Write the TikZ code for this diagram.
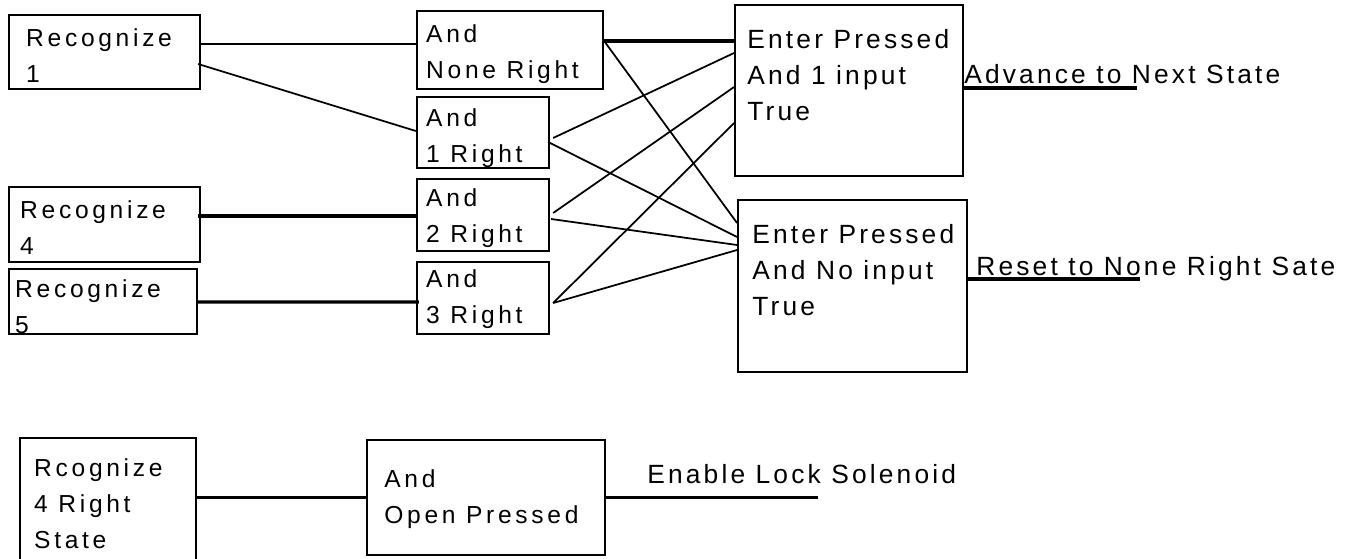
\documentclass[tikz,border=0pt]{standalone}
\usepackage{fontspec}
\setmainfont{Liberation Sans}
\newfontfamily\gatefont[LetterSpace=15]{Liberation Sans}
\newfontfamily\statefont[LetterSpace=12]{Liberation Sans}
\usetikzlibrary{calc}

\tikzset{
	blk/.style={draw, line width=1.3pt, inner sep=0pt},
	txt/.style={anchor=north west, inner sep=0pt, align=left, font=\gatefont\fontsize{14}{20.5}\selectfont},
	stxt/.style={txt, font=\statefont\fontsize{15}{20.5}\selectfont},
	wire/.style={line width=1pt},
	bus/.style={line width=1.8pt}
}

\begin{document}
\begin{tikzpicture}[x=0.02cm, y=-0.02cm]

	\useasboundingbox (0,0) rectangle (1351,558);

	% Input blocks
	\node[blk, minimum width=3.82cm, minimum height=1.48cm] (r1) at (104.5,52) {};
	\node[blk, minimum width=3.82cm, minimum height=1.50cm] (r4) at (104.5,224.5) {};
	\node[blk, minimum width=3.76cm, minimum height=1.30cm] (r5) at (103,301.5) {};

	% And gates
	\node[blk, minimum width=3.72cm, minimum height=1.56cm] (andn) at (510,50) {};
	\node[blk, minimum width=2.64cm, minimum height=1.42cm] (and1) at (483,132.5) {};
	\node[blk, minimum width=2.64cm, minimum height=1.44cm] (and2) at (483,215) {};
	\node[blk, minimum width=2.64cm, minimum height=1.44cm] (and3) at (483,298) {};

	% Enter blocks
	\node[blk, line width=1.1pt, minimum width=4.56cm, minimum height=3.42cm] (ent1) at (849,90.5) {};
	\node[blk, line width=1.1pt, minimum width=4.58cm, minimum height=3.44cm] (ent2) at (852.5,286) {};

	% Lock part
	\node[blk, minimum width=3.52cm, minimum height=3.24cm] (r4s) at (108,519) {};
	\node[blk, line width=1.1pt, minimum width=4.76cm, minimum height=2.30cm] (ando) at (486,497.5) {};

	% Texts
	\node[txt] (r1t) at ($(r1.north west)+(18,14)$) {Recognize\\1};
	\node[txt] (r4t) at ($(r4.north west)+(12,14)$) {Recognize\\4};
	\node[txt] (r5t) at ($(r5.north west)+(7,11)$) {Recognize\\5};
	\node[txt] (andnt) at ($(andn.north west)+(10,14)$) {And\\None Right};
	\node[txt] (and1t) at ($(and1.north west)+(10,12)$) {And\\1 Right};
	\node[txt] (and2t) at ($(and2.north west)+(10,10)$) {And\\2 Right};
	\node[txt] (and3t) at ($(and3.north west)+(10,8)$) {And\\3 Right};
	\node[stxt] (ent1t) at ($(ent1.north west)+(13,25)$) {Enter Pressed\\And 1 input\\True};
	\node[stxt] (ent2t) at ($(ent2.north west)+(15,25)$) {Enter Pressed\\And No input\\True};
	\node[txt] (r4st) at ($(r4s.north west)+(15,21)$) {Rcognize\\4 Right\\State};
	\node[txt] (andot) at ($(ando.north west)+(18,30)$) {And\\Open Pressed};

	% Free ends
	\coordinate (adv) at (1137,88);
	\coordinate (rst) at (1140,279);
	\coordinate (enl) at (818,497.5);

	\node[stxt, anchor=base west] (advt) at (964,83) {Advance to Next State};
	\node[stxt, anchor=base west] (rstt) at (976,275) {Reset to None Right Sate};
	\node[stxt, anchor=base west] (enlt) at (647,483) {Enable Lock Solenoid};

	% Inputs to gates
	\draw[wire, line width=0.7pt] ($(r1.east)+(0,-8)$) -- ($(andn.west)+(0,-6)$);
	\draw[wire] ($(r1.east)+(-3,12)$) -- ($(and1.west)+(0,-1.5)$);
	\draw[bus] ($(r4.east)+(-3,-8.5)$) -- ($(and2.west)+(0,1)$);
	\draw[bus] ($(r5.east)+(0,0.5)$) -- ($(and3.west)+(3,4)$);

	% Gates to enter blocks
	\draw[bus] ($(andn.east)+(0,-9)$) -- ($(ent1.west)+(0,-49.5)$);
	\draw[wire] ($(andn.east)+(0,-9)$) -- ($(ent2.west)+(0,-63)$);
	\draw[wire] ($(and1.east)+(3,5.5)$) -- ($(ent1.west)+(0,-37.5)$);
	\draw[wire] ($(and1.east)+(-2,9.5)$) -- ($(ent2.west)+(0,-49)$);
	\draw[wire] ($(and2.east)+(3,-2)$) -- ($(ent1.west)+(0,-3.5)$);
	\draw[wire] ($(and2.east)+(1,4)$) -- ($(ent2.west)+(0,-41)$);
	\draw[wire] ($(and3.east)+(3,5)$) -- ($(ent1.west)+(0,32.5)$);
	\draw[wire] ($(and3.east)+(3,5)$) -- ($(ent2.west)+(0,-36)$);

	% Outputs
	\draw[bus] (ent1.east |- adv) -- (adv);
	\draw[bus] (ent2.east |- rst) -- (rst);
	\draw[bus] (r4s.east |- ando.west) -- (ando.west);
	\draw[bus] (ando.east) -- (enl);

\end{tikzpicture}
\end{document}
